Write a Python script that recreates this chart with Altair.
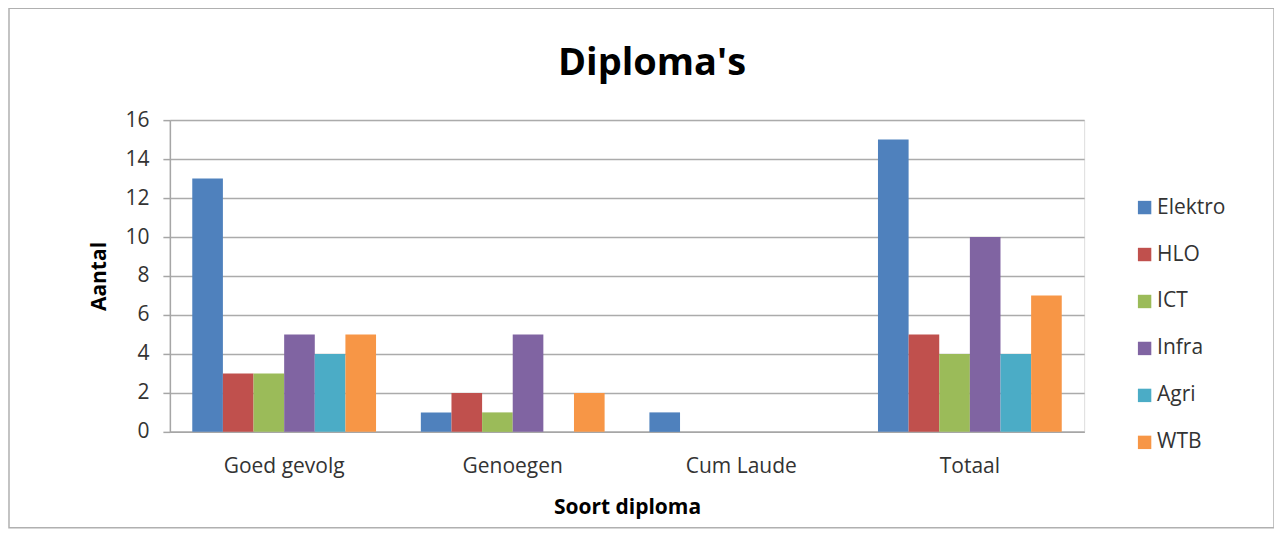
import altair as alt
import pandas as pd

categories = ["Goed gevolg", "Genoegen", "Cum Laude", "Totaal"]
series = ["Elektro", "HLO", "ICT", "Infra", "Agri", "WTB"]
colors = ["#4F81BD", "#C0504D", "#9BBB59", "#8064A2", "#4BACC6", "#F79646"]
values = {
    "Elektro": [13, 1, 1, 15],
    "HLO": [3, 2, 0, 5],
    "ICT": [3, 1, 0, 4],
    "Infra": [5, 5, 0, 10],
    "Agri": [4, 0, 0, 4],
    "WTB": [5, 2, 0, 7],
}
y_ticks = [0, 2, 4, 6, 8, 10, 12, 14, 16]

rows = []
for s in series:
    for c, v in zip(categories, values[s]):
        rows.append({"Soort": c, "Opleiding": s, "Aantal": v})
df = pd.DataFrame(rows)

FONT = "Open Sans"
FS = 21

bars = alt.Chart(df).mark_bar().encode(
    x=alt.X("Soort:N", sort=categories,
            scale=alt.Scale(paddingInner=0.196, paddingOuter=0.098),
            axis=alt.Axis(title="Soort diploma", labelAngle=0, ticks=False,
                          labelFontSize=FS, labelPadding=24, labelColor="#333333",
                          titleFontSize=FS, titleFontWeight="bold", titlePadding=20,
                          titleColor="#000000", domainColor="#a6a6a6", domainWidth=1.5,
                          labelFont=FONT, titleFont=FONT)),
    xOffset=alt.XOffset("Opleiding:N", sort=series),
    y=alt.Y("Aantal:Q", scale=alt.Scale(domain=[0, 16], nice=False),
            axis=alt.Axis(title="Aantal", values=y_ticks, tickSize=7, tickColor="#a6a6a6",
                          tickWidth=1.5, labelFontSize=FS, labelPadding=14,
                          labelColor="#333333", titleFontSize=FS, titleFontWeight="bold",
                          titlePadding=15, titleColor="#000000", domainColor="#a6a6a6",
                          domainWidth=1.5, gridColor="#ababab", gridWidth=1.5,
                          labelFont=FONT, titleFont=FONT)),
    color=alt.Color("Opleiding:N", sort=series,
                    scale=alt.Scale(domain=series, range=colors),
                    legend=alt.Legend(title=None, orient="none", legendX=965, legendY=77,
                                      symbolType="square", symbolSize=180,
                                      symbolStrokeWidth=0, labelFontSize=FS,
                                      labelFont=FONT, labelColor="#333333",
                                      rowPadding=25, labelOffset=2)),
)

frame = alt.Chart(pd.DataFrame({"d": [0]})).mark_rect(
    fill=None, stroke="#b0b0b0", strokeWidth=1.5, clip=False
).encode(
    x=alt.value(-161), x2=alt.value(1105), y=alt.value(-112), y2=alt.value(408)
)

chart = alt.layer(frame, bars).properties(
    width=915, height=312,
    title=alt.TitleParams("Diploma's", fontSize=38, fontWeight="bold", font=FONT,
                          color="#000000", anchor="middle", dx=25, offset=-76),
    autosize=alt.AutoSizeParams(type="none"),
    padding={"left": 162, "top": 112, "right": 190, "bottom": 105},
).configure_view(stroke=None).configure(background="white")

chart.save("out.html", embed_options={"renderer": "svg", "actions": False})
